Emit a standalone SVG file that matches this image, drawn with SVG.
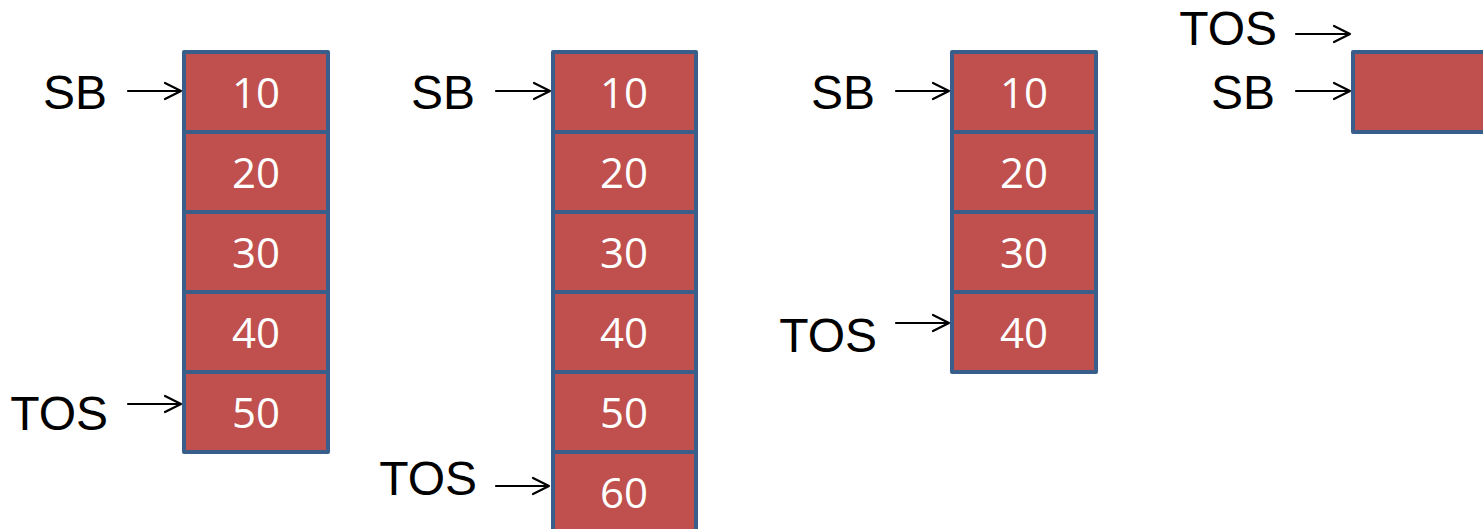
<svg xmlns="http://www.w3.org/2000/svg" width="1483" height="529" viewBox="0 0 1483 529">
<style>
.cell{fill:#C0504D;stroke:#3A5E8C;stroke-width:4;stroke-linejoin:round}
.num{font-family:"Open Sans","DejaVu Sans",sans-serif;font-size:42px;fill:#FFFFFF;text-anchor:middle}
.lbl{font-family:"Liberation Sans",Arial,sans-serif;font-size:48px;fill:#000000;text-anchor:end}
.arr{fill:none;stroke:#000000;stroke-width:2.2;stroke-linecap:round;stroke-linejoin:round}
</style>
<rect width="1483" height="529" fill="#FFFFFF"/>
<g id="stack1">
<rect class="cell" x="184" y="52" width="144" height="80"/>
<rect class="cell" x="184" y="132" width="144" height="80"/>
<rect class="cell" x="184" y="212" width="144" height="80"/>
<rect class="cell" x="184" y="292" width="144" height="80"/>
<rect class="cell" x="184" y="372" width="144" height="80"/>
<text class="num" x="256" y="108">10</text>
<text class="num" x="256" y="188">20</text>
<text class="num" x="256" y="268">30</text>
<text class="num" x="256" y="348">40</text>
<text class="num" x="256" y="428">50</text>
</g>
<g id="stack2">
<rect class="cell" x="553" y="52" width="143" height="80"/>
<rect class="cell" x="553" y="132" width="143" height="80"/>
<rect class="cell" x="553" y="212" width="143" height="80"/>
<rect class="cell" x="553" y="292" width="143" height="80"/>
<rect class="cell" x="553" y="372" width="143" height="80"/>
<rect class="cell" x="553" y="452" width="143" height="80"/>
<text class="num" x="624" y="108">10</text>
<text class="num" x="624" y="188">20</text>
<text class="num" x="624" y="268">30</text>
<text class="num" x="624" y="348">40</text>
<text class="num" x="624" y="428">50</text>
<text class="num" x="624" y="508">60</text>
</g>
<g id="stack3">
<rect class="cell" x="952" y="52" width="144" height="80"/>
<rect class="cell" x="952" y="132" width="144" height="80"/>
<rect class="cell" x="952" y="212" width="144" height="80"/>
<rect class="cell" x="952" y="292" width="144" height="80"/>
<text class="num" x="1024" y="108">10</text>
<text class="num" x="1024" y="188">20</text>
<text class="num" x="1024" y="268">30</text>
<text class="num" x="1024" y="348">40</text>
</g>
<g id="stack4">
<rect class="cell" x="1353" y="52" width="200" height="80"/>
</g>
<g id="labels">
<text class="lbl" x="107" y="109">SB</text>
<text class="lbl" x="108" y="430">TOS</text>
<text class="lbl" x="475" y="109">SB</text>
<text class="lbl" x="477" y="495">TOS</text>
<text class="lbl" x="875" y="109">SB</text>
<text class="lbl" x="877" y="352">TOS</text>
<text class="lbl" x="1275" y="109">SB</text>
<text class="lbl" x="1277" y="45">TOS</text>
</g>
<g id="connectors">
<path class="arr" d="M128 91 H181 M165 83 L181 91 L165 99"/>
<path class="arr" d="M128 404 H181 M165 396 L181 404 L165 412"/>
<path class="arr" d="M496 91 H550 M534 83 L550 91 L534 99"/>
<path class="arr" d="M496 486 H549 M533 478 L549 486 L533 494"/>
<path class="arr" d="M896 91 H949 M933 83 L949 91 L933 99"/>
<path class="arr" d="M896 323 H949 M933 315 L949 323 L933 331"/>
<path class="arr" d="M1296 91 H1350 M1334 83 L1350 91 L1334 99"/>
<path class="arr" d="M1296 34 H1350 M1334 26 L1350 34 L1334 42"/>
</g>
</svg>
